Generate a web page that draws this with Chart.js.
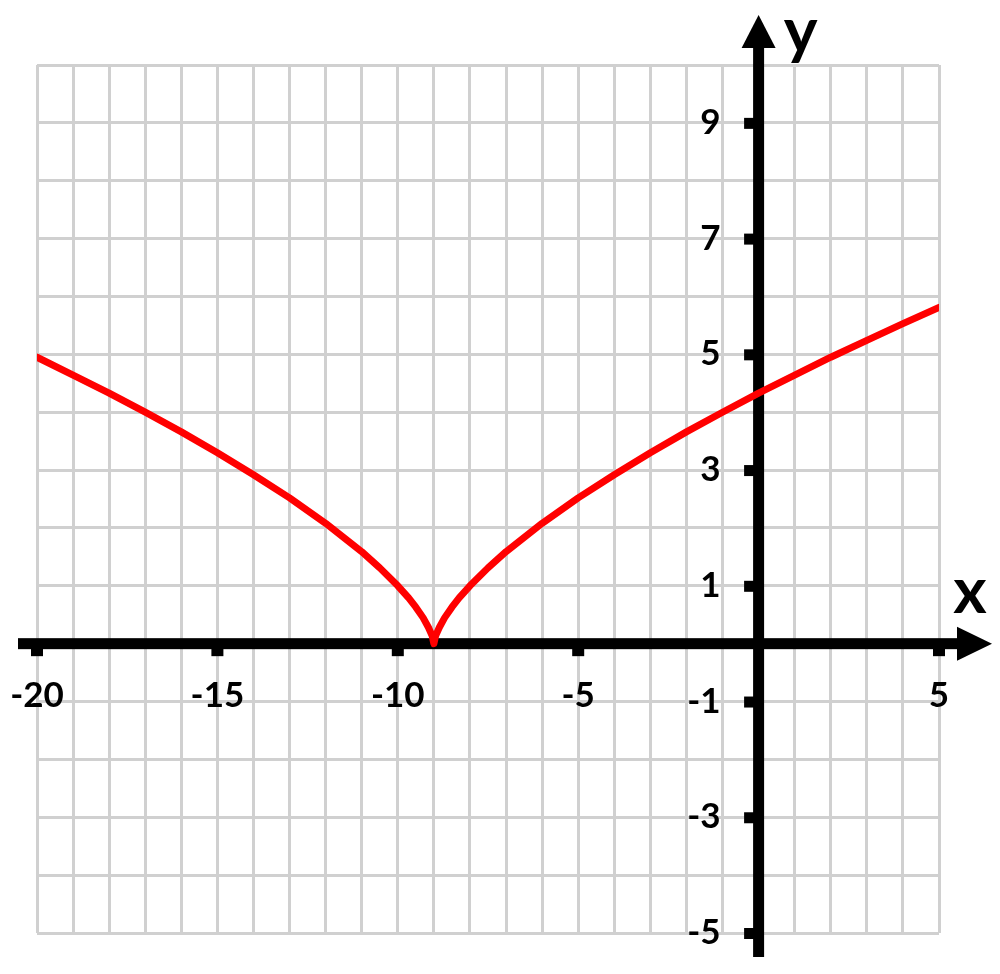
<!DOCTYPE html>
<html>
<head>
<meta charset="utf-8">
<script src="https://cdn.jsdelivr.net/npm/chart.js@4.4.1/dist/chart.umd.min.js"></script>
<style>
  html, body { margin: 0; padding: 0; background: #ffffff; }
  #plot { display: block; }
</style>
</head>
<body>
<canvas id="plot" width="1000" height="974"></canvas>
<script>
  // values
  var curveX = [-20, -19, -18, -17, -16, -15, -14, -13, -12, -11, -10.5, -10, -9.7, -9.5, -9.3, -9.15, -9.05, -9,
                -8.95, -8.85, -8.7, -8.5, -8.3, -8, -7.5, -7, -6, -5, -4, -3, -2, -1, 0, 1, 2, 3, 4, 5];
  var curveY = [4.95, 4.64, 4.33, 4.0, 3.66, 3.30, 2.92, 2.52, 2.08, 1.59, 1.31, 1.0, 0.79, 0.63, 0.45, 0.28, 0.14, 0,
                0.14, 0.28, 0.45, 0.63, 0.79, 1.0, 1.31, 1.59, 2.08, 2.52, 2.92, 3.30, 3.66, 4.0, 4.33, 4.64, 4.95, 5.24, 5.53, 5.81];
  var xTickLabels = [-20, -15, -10, -5, 5];
  var yTickLabels = [9, 7, 5, 3, 1, -1, -3, -5];

  var points = curveX.map(function (x, i) { return { x: x, y: curveY[i] }; });

  var LABEL_FONT = 'bold 35px Lato, "Open Sans", sans-serif';
  var NAME_FONT = 'bold 64px Lato, "Open Sans", sans-serif';
  var AXIS_W = 11;

  var axesPlugin = {
    id: 'axes',
    beforeDatasetsDraw: function (chart) {
      var ctx = chart.ctx;
      var xs = chart.scales.x;
      var ys = chart.scales.y;
      var ox = xs.getPixelForValue(0);
      var oy = ys.getPixelForValue(0);
      var area = chart.chartArea;

      ctx.save();
      ctx.fillStyle = '#000000';

      // x axis with arrow
      var xEnd = area.right + 18;
      ctx.fillRect(area.left - 19, oy - AXIS_W / 2, xEnd - (area.left - 19), AXIS_W);
      ctx.beginPath();
      ctx.moveTo(xEnd, oy - 17);
      ctx.lineTo(area.right + 53, oy);
      ctx.lineTo(xEnd, oy + 17);
      ctx.closePath();
      ctx.fill();

      // y axis with arrow
      var yEnd = area.top - 17;
      ctx.fillRect(ox - AXIS_W / 2, yEnd, AXIS_W, area.bottom + 24 - yEnd);
      ctx.beginPath();
      ctx.moveTo(ox - 17, yEnd);
      ctx.lineTo(ox, area.top - 50);
      ctx.lineTo(ox + 17, yEnd);
      ctx.closePath();
      ctx.fill();

      // tick marks and labels
      ctx.font = LABEL_FONT;
      ctx.textBaseline = 'alphabetic';
      ctx.textAlign = 'center';
      xTickLabels.forEach(function (v) {
        var px = xs.getPixelForValue(v);
        ctx.fillRect(px - 6, oy + AXIS_W / 2 - 1, 12, 8);
        ctx.fillText(String(v), px, oy + 63);
      });
      ctx.textAlign = 'right';
      yTickLabels.forEach(function (v) {
        var py = ys.getPixelForValue(v);
        ctx.fillRect(ox - AXIS_W / 2 - 9, py - 5, 10, 11);
        ctx.fillText(String(v), ox - 38, py + 11);
      });

      // axis names
      ctx.font = NAME_FONT;
      ctx.textAlign = 'center';
      ctx.fillText('y', ox + 42, area.top - 12);
      ctx.fillText('x', area.right + 31, oy - 31);
      ctx.restore();
    }
  };

  new Chart(document.getElementById('plot'), {
    type: 'scatter',
    data: {
      datasets: [{
        data: points,
        showLine: true,
        borderColor: '#ff0000',
        borderWidth: 7,
        pointRadius: 0,
        tension: 0,
        borderCapStyle: 'round',
        borderJoinStyle: 'round'
      }]
    },
    options: {
      responsive: false,
      animation: false,
      devicePixelRatio: 1,
      layout: { padding: { left: 37, right: 61, top: 65, bottom: 41 } },
      plugins: { legend: { display: false }, tooltip: { enabled: false } },
      scales: {
        x: {
          type: 'linear',
          min: -20,
          max: 5,
          ticks: { display: false, stepSize: 1 },
          grid: { color: '#d0d0d0', lineWidth: 3, drawTicks: false },
          border: { display: false }
        },
        y: {
          type: 'linear',
          min: -5,
          max: 10,
          ticks: { display: false, stepSize: 1 },
          grid: { color: '#d0d0d0', lineWidth: 3, drawTicks: false },
          border: { display: false }
        }
      }
    },
    plugins: [axesPlugin]
  });
</script>
</body>
</html>
